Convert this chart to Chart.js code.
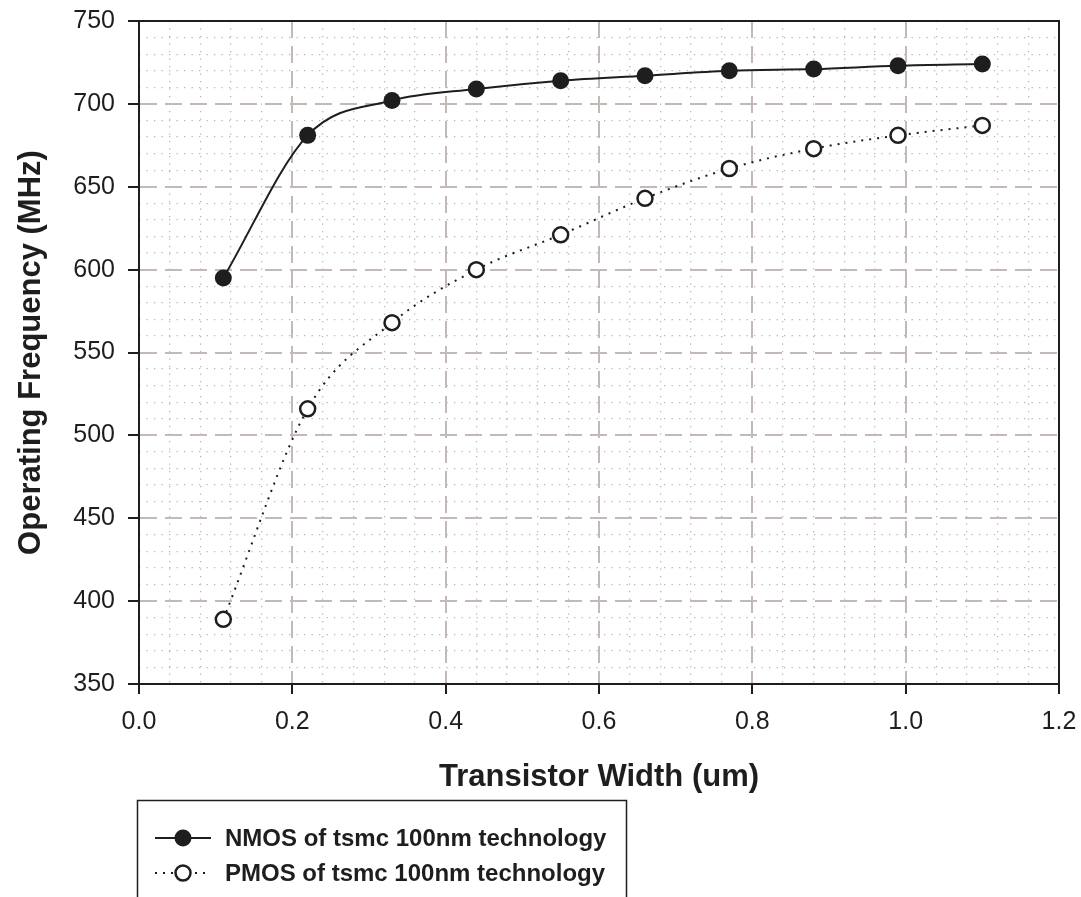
<!DOCTYPE html>
<html>
<head>
<meta charset="utf-8">
<title>Operating Frequency vs Transistor Width</title>
<script src="https://cdn.jsdelivr.net/npm/chart.js@4.4.0/dist/chart.umd.min.js"></script>
<style>
  html, body { margin: 0; padding: 0; background: #fff; }
  #contenedor { width: 1081px; height: 897px; }
</style>
</head>
<body>
<div id="contenedor"><canvas id="chartFrecuencia" width="1081" height="897"></canvas></div>
<script>
// Ancho del transistor (um)
const anchos = [0.11, 0.22, 0.33, 0.44, 0.55, 0.66, 0.77, 0.88, 0.99, 1.10];
// Frecuencia de operación (MHz)
const frecNMOS = [595, 681, 702, 709, 714, 717, 720, 721, 723, 724];
const frecPMOS = [389, 516, 568, 600, 621, 643, 661, 673, 681, 687];
// Marcas de los ejes
const ticksX = [0, 0.2, 0.4, 0.6, 0.8, 1.0, 1.2];
const ticksY = [350, 400, 450, 500, 550, 600, 650, 700, 750];

const etiquetas = ['NMOS of tsmc 100nm technology', 'PMOS of tsmc 100nm technology'];

const fuente = '"Liberation Sans", Arial, Helvetica, sans-serif';
const negro = '#1e1e1e';
const colorMayor = '#c3b9b6';

// Rejilla secundaria punteada (5 divisiones por marca principal)
function ticksMenores(valores) {
    const out = [];
    for (let i = 0; i < valores.length - 1; i++) {
        const paso = (valores[i + 1] - valores[i]) / 5;
        for (let k = 0; k < 5; k++) out.push({ value: valores[i] + paso * k });
    }
    out.push({ value: valores[valores.length - 1] });
    return out;
}
const colorMenor = ctx => (ctx.index % 5 === 0 ? 'rgba(0,0,0,0)' : '#bcb4b4');

// Sin relleno extra por las etiquetas de los extremos
function sinRelleno(s) {
    s.paddingTop = 0;
    s.paddingBottom = 0;
    s.paddingLeft = 0;
    s.paddingRight = 0;
}

// Marco superior y derecho del área de trazado
const marco = {
    id: 'marco',
    afterDraw(chart) {
        const { ctx, chartArea: a } = chart;
        ctx.save();
        ctx.strokeStyle = negro;
        ctx.lineWidth = 2;
        ctx.beginPath();
        ctx.moveTo(a.left, a.top);
        ctx.lineTo(a.right, a.top);
        ctx.lineTo(a.right, a.bottom);
        ctx.stroke();
        ctx.restore();
    }
};

// Leyenda en caja debajo del eje X
const leyendaCaja = {
    id: 'leyendaCaja',
    afterDraw(chart) {
        const { ctx } = chart;
        ctx.save();
        ctx.strokeStyle = negro;
        ctx.lineWidth = 1.5;
        ctx.strokeRect(137.5, 800.5, 489, 140);
        chart.data.datasets.forEach((ds, i) => {
            const y = 838 + i * 35;
            ctx.beginPath();
            ctx.setLineDash(ds.borderDash || []);
            ctx.lineWidth = ds.borderWidth;
            ctx.strokeStyle = ds.borderColor;
            ctx.moveTo(155, y);
            ctx.lineTo(211, y);
            ctx.stroke();
            ctx.setLineDash([]);
            ctx.beginPath();
            ctx.arc(183, y, ds.pointRadius, 0, Math.PI * 2);
            ctx.fillStyle = ds.pointBackgroundColor;
            ctx.fill();
            if (ds.pointBorderWidth) {
                ctx.lineWidth = ds.pointBorderWidth;
                ctx.strokeStyle = ds.pointBorderColor;
                ctx.stroke();
            }
            ctx.font = 'bold 24px ' + fuente;
            ctx.fillStyle = negro;
            ctx.textBaseline = 'middle';
            ctx.fillText(ds.label, 225, y + 1);
        });
        ctx.restore();
    }
};

const ctx = document.getElementById('chartFrecuencia').getContext('2d');
new Chart(ctx, {
    type: 'line',
    data: {
        datasets: [
            {
                label: etiquetas[0],
                data: anchos.map((w, i) => ({ x: w, y: frecNMOS[i] })),
                borderColor: negro,
                borderWidth: 2,
                pointRadius: 8.5,
                pointBackgroundColor: negro,
                pointBorderColor: negro,
                pointBorderWidth: 0,
                cubicInterpolationMode: 'monotone'
            },
            {
                label: etiquetas[1],
                data: anchos.map((w, i) => ({ x: w, y: frecPMOS[i] })),
                borderColor: negro,
                borderWidth: 2,
                borderDash: [2, 6],
                pointRadius: 7.5,
                pointBackgroundColor: '#ffffff',
                pointBorderColor: negro,
                pointBorderWidth: 2.5,
                cubicInterpolationMode: 'monotone'
            }
        ]
    },
    options: {
        responsive: false,
        animation: false,
        layout: { padding: { top: 21, right: 22, left: 0, bottom: 0 } },
        plugins: {
            legend: { display: false },
            tooltip: { enabled: false }
        },
        scales: {
            xMenor: {
                type: 'linear', position: 'bottom', min: 0, max: 1.2,
                afterBuildTicks: s => { s.ticks = ticksMenores(ticksX); },
                afterFit: s => { s.height = 0; sinRelleno(s); },
                ticks: { display: false },
                grid: { color: colorMenor, lineWidth: 1.3, drawTicks: false },
                border: { display: false, dash: [1.3, 6.2] }
            },
            yMenor: {
                type: 'linear', position: 'left', min: 350, max: 750,
                afterBuildTicks: s => { s.ticks = ticksMenores(ticksY); },
                afterFit: s => { s.width = 0; sinRelleno(s); },
                ticks: { display: false },
                grid: { color: colorMenor, lineWidth: 1.3, drawTicks: false },
                border: { display: false, dash: [1.3, 6.2] }
            },
            x: {
                type: 'linear', position: 'bottom', min: 0, max: 1.2,
                afterBuildTicks: s => { s.ticks = ticksX.map(v => ({ value: v })); },
                afterFit: s => { s.height = 213; sinRelleno(s); },
                ticks: {
                    font: { family: fuente, size: 25 },
                    color: negro,
                    padding: 13,
                    maxRotation: 0,
                    autoSkip: false,
                    callback: v => Number(v).toFixed(1)
                },
                grid: { color: colorMayor, lineWidth: 2, tickLength: 10, tickColor: negro, tickWidth: 2 },
                border: { display: true, color: negro, width: 2, dash: [17, 8] },
                title: {
                    display: true,
                    text: 'Transistor Width (um)',
                    font: { family: fuente, size: 31, weight: 'bold' },
                    color: negro,
                    padding: { top: 0, bottom: 101 }
                }
            },
            y: {
                type: 'linear', position: 'left', min: 350, max: 750,
                afterBuildTicks: s => { s.ticks = ticksY.map(v => ({ value: v })); },
                afterFit: s => { s.width = 139; sinRelleno(s); },
                ticks: {
                    font: { family: fuente, size: 25 },
                    color: negro,
                    padding: 13,
                    autoSkip: false
                },
                grid: { color: colorMayor, lineWidth: 2, tickLength: 11, tickColor: negro, tickWidth: 2 },
                border: { display: true, color: negro, width: 2, dash: [17, 8] },
                title: {
                    display: true,
                    text: 'Operating Frequency (MHz)',
                    font: { family: fuente, size: 31, weight: 'bold' },
                    color: negro,
                    padding: { top: 13, bottom: 0 }
                }
            }
        }
    },
    plugins: [marco, leyendaCaja]
});
</script>
</body>
</html>
